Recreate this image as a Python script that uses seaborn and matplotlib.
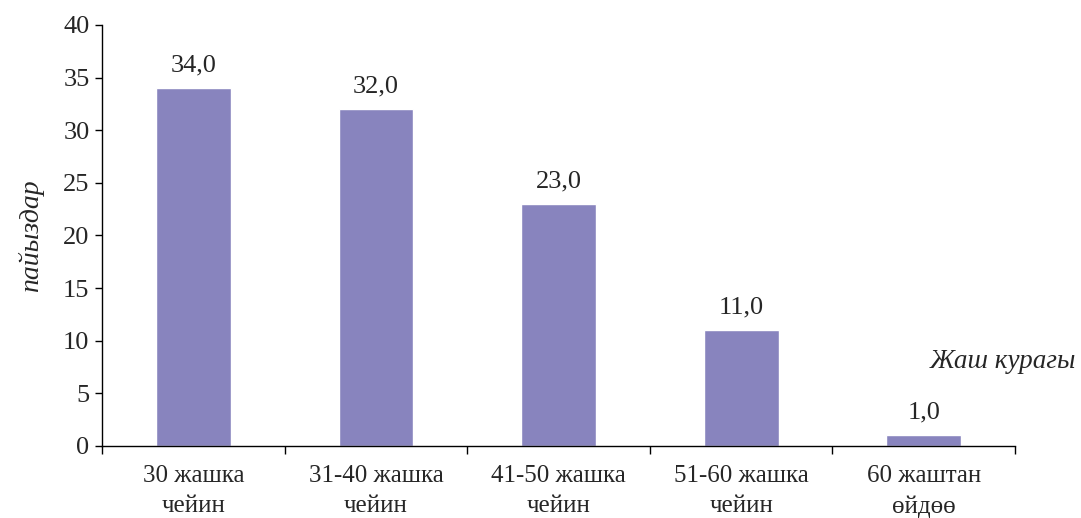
import matplotlib
matplotlib.use("Agg")
import matplotlib.pyplot as plt
import seaborn as sns
import pandas as pd

categories = ["30 жашка\nчейин", "31-40 жашка\nчейин", "41-50 жашка\nчейин", "51-60 жашка\nчейин", "60 жаштан\nөйдөө"]
values = [34.0, 32.0, 23.0, 11.0, 1.0]
value_labels = ["34,0", "32,0", "23,0", "11,0", "1,0"]
y_ticks = [0, 5, 10, 15, 20, 25, 30, 35, 40]

sns.set_style("white")
plt.rcParams['font.family'] = ['Liberation Serif', 'DejaVu Serif']

fig = plt.figure(figsize=(10.81, 5.18), dpi=100)
ax = fig.add_axes([0.0944, 0.139, 0.8446, 0.813])

df = pd.DataFrame({"cat": categories, "val": values})
sns.barplot(data=df, x="cat", y="val", color="#8884BE", saturation=1, width=0.41, ax=ax)

for i, (v, lab) in enumerate(zip(values, value_labels)):
    ax.text(i, v + 1.1, lab, ha="center", va="bottom", fontsize=19)

ax.set_ylim(0, 40)
ax.set_xlim(-0.5, len(categories) - 0.5)
ax.set_yticks(y_ticks)
ax.set_yticklabels([str(t) for t in y_ticks], fontsize=19)
ax.set_xticks(range(len(categories)))
ax.set_xticklabels(categories, fontsize=18, linespacing=1.45)
ax.tick_params(axis="x", which="major", bottom=False, length=0, pad=14)
ax.set_xticks([i - 0.5 for i in range(len(categories) + 1)], minor=True)
ax.tick_params(axis="x", which="minor", bottom=True, length=6, width=1, color="black", direction="out")
ax.tick_params(axis="y", left=True, length=5, width=1, color="black", direction="out", pad=4)

for s in ["top", "right"]:
    ax.spines[s].set_visible(False)
for s in ["left", "bottom"]:
    ax.spines[s].set_color("black")
    ax.spines[s].set_linewidth(1)

ax.set_xlabel("")
ax.set_ylabel("пайыздар", fontsize=20, style="italic", labelpad=14)
fig.text(0.928, 0.302, "Жаш курагы", fontsize=19.5, style="italic", ha="center", va="center")

fig.savefig("out.png", dpi=100)
